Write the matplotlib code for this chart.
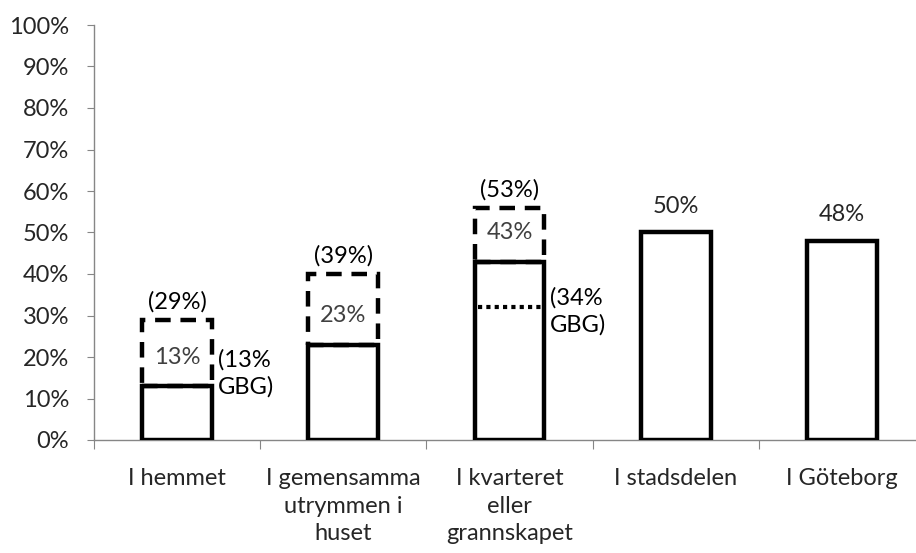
import matplotlib.pyplot as plt
import numpy as np

plt.rcParams['font.family'] = ['Lato', 'DejaVu Sans']

categories = ['I hemmet', 'I gemensamma\nutrymmen i\nhuset', 'I kvarteret\neller\ngrannskapet',
              'I stadsdelen', 'I Göteborg']
values = [13, 23, 43, 50, 48]
# dashed extension tops (as drawn) and their labels
ext_tops = [29, 40, 56]
ext_labels = ['(29%)', '(39%)', '(53%)']
# GBG comparison: dotted line drawn only in third bar
gbg_line = 32
gbg_labels = ['(13%\nGBG)', None, '(34%\nGBG)']
yticks = [0, 10, 20, 30, 40, 50, 60, 70, 80, 90, 100]

fs = 17
fig = plt.figure(figsize=(9.16, 5.53), dpi=100)
ax = fig.add_axes([94 / 916, 113 / 553, 831 / 916, 415 / 553])

x = np.arange(len(categories))
w = 0.42
ax.bar(x, values, width=w, color='white', edgecolor='black', linewidth=3.2, zorder=3)

for i, top in enumerate(ext_tops):
    ax.bar(x[i], top - values[i], bottom=values[i], width=w, fill=False,
           edgecolor='black', linewidth=3.2, linestyle=(0, (3.5, 2.2)), zorder=4)
    ax.annotate(ext_labels[i], (x[i], top), xytext=(0, 13), textcoords='offset points',
                ha='center', va='center', fontsize=fs, color='black')
    ax.text(x[i], values[i] + 7, f'{values[i]}%', ha='center', va='center',
            fontsize=fs, color='#404040', zorder=5)

for i in range(3, len(values)):
    ax.annotate(f'{values[i]}%', (x[i], values[i]), xytext=(0, 19), textcoords='offset points',
                ha='center', va='center', fontsize=fs, color='#262626')

ax.hlines(gbg_line, x[2] - w / 2 + 0.02, x[2] + w / 2 - 0.02, colors='black',
          linewidth=3, linestyle=(0, (1, 1)), zorder=4)

gbg_y = [16, None, 31]
for i, lab in enumerate(gbg_labels):
    if lab:
        ax.text(x[i] + w / 2 + 0.035, gbg_y[i], lab, ha='left', va='center',
                fontsize=fs, color='black', linespacing=1.3)

ax.set_xlim(-0.5, 4.5)
ax.set_ylim(0, 100)
ax.set_yticks(yticks)
ax.set_yticklabels([f'{v}%' for v in yticks], color='#262626')
ax.set_xticks(np.arange(-0.5, 5, 1))
ax.set_xticklabels([])
ax.set_xticks(x, minor=True)
ax.set_xticklabels(categories, minor=True, fontsize=fs, linespacing=1.4, color='#262626')
ax.tick_params(axis='x', which='major', direction='out', length=6.5, color='#868686')
ax.tick_params(axis='x', which='minor', length=0, pad=20)
ax.tick_params(axis='y', direction='out', length=5, color='#868686', labelsize=fs, pad=13)

for s in ['top', 'right']:
    ax.spines[s].set_visible(False)
for s in ['left', 'bottom']:
    ax.spines[s].set_color('#868686')
    ax.spines[s].set_linewidth(1)

fig.savefig('out.png', dpi=100)
